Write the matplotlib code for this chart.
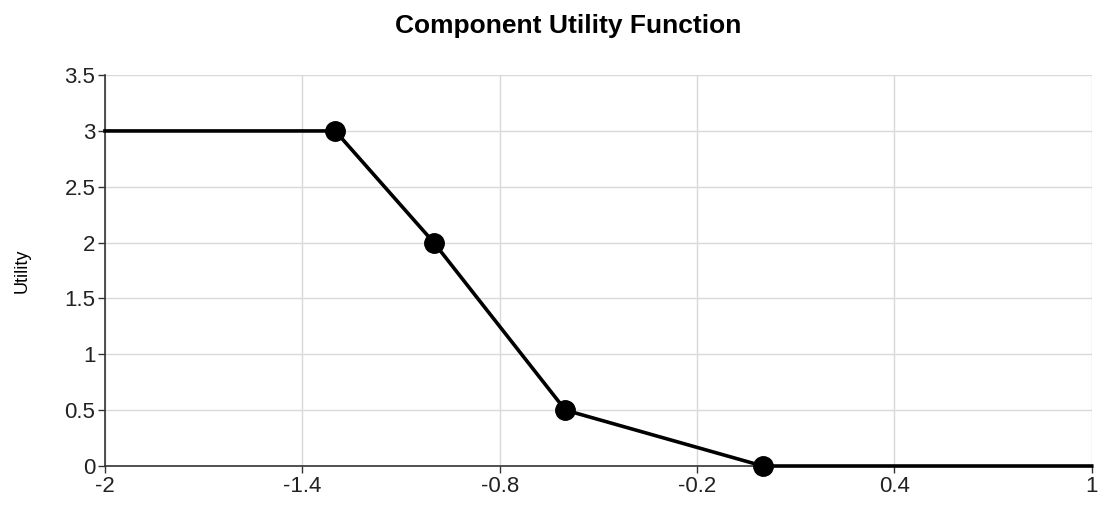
import matplotlib.pyplot as plt

plt.rcParams['font.family'] = ['Liberation Sans', 'DejaVu Sans']

# breakpoints of the utility function
x_points = [-1.3, -1.0, -0.6, 0.0]
y_points = [3.0, 2.0, 0.5, 0.0]

# full curve including flat ends
x_line = [-2.0] + x_points + [1.0]
y_line = [3.0] + y_points + [0.0]

x_ticks = [-2, -1.4, -0.8, -0.2, 0.4, 1]
x_labels = ['-2', '-1.4', '-0.8', '-0.2', '0.4', '1']
y_ticks = [0, 0.5, 1, 1.5, 2, 2.5, 3, 3.5]
y_labels = ['0', '0.5', '1', '1.5', '2', '2.5', '3', '3.5']

fig = plt.figure(figsize=(11.05, 5.13), dpi=100)
ax = fig.add_axes([0.095, 0.0916, 0.893, 0.762])

ax.plot(x_line, y_line, color='black', linewidth=2.6, zorder=3, clip_on=False)
ax.plot(x_points, y_points, 'o', color='black', markersize=14, zorder=4, clip_on=False)

ax.set_xlim(-2, 1)
ax.set_ylim(0, 3.5)
ax.set_xticks(x_ticks)
ax.set_xticklabels(x_labels)
ax.set_yticks(y_ticks)
ax.set_yticklabels(y_labels)

ax.grid(True, color='#d9d9d9', linewidth=1)
ax.set_axisbelow(True)
for side in ['top', 'right']:
    ax.spines[side].set_visible(False)
for side in ['left', 'bottom']:
    ax.spines[side].set_color('#333333')
    ax.spines[side].set_linewidth(1.2)

ax.tick_params(axis='both', labelsize=16, length=5, width=1, color='#333333',
               labelcolor='#222222', pad=2)

ax.set_ylabel('Utility', fontsize=13, labelpad=24)
ax.set_title('Component Utility Function', fontsize=19, fontweight='bold', pad=30, x=0.469)

fig.savefig('out.png', dpi=100)
